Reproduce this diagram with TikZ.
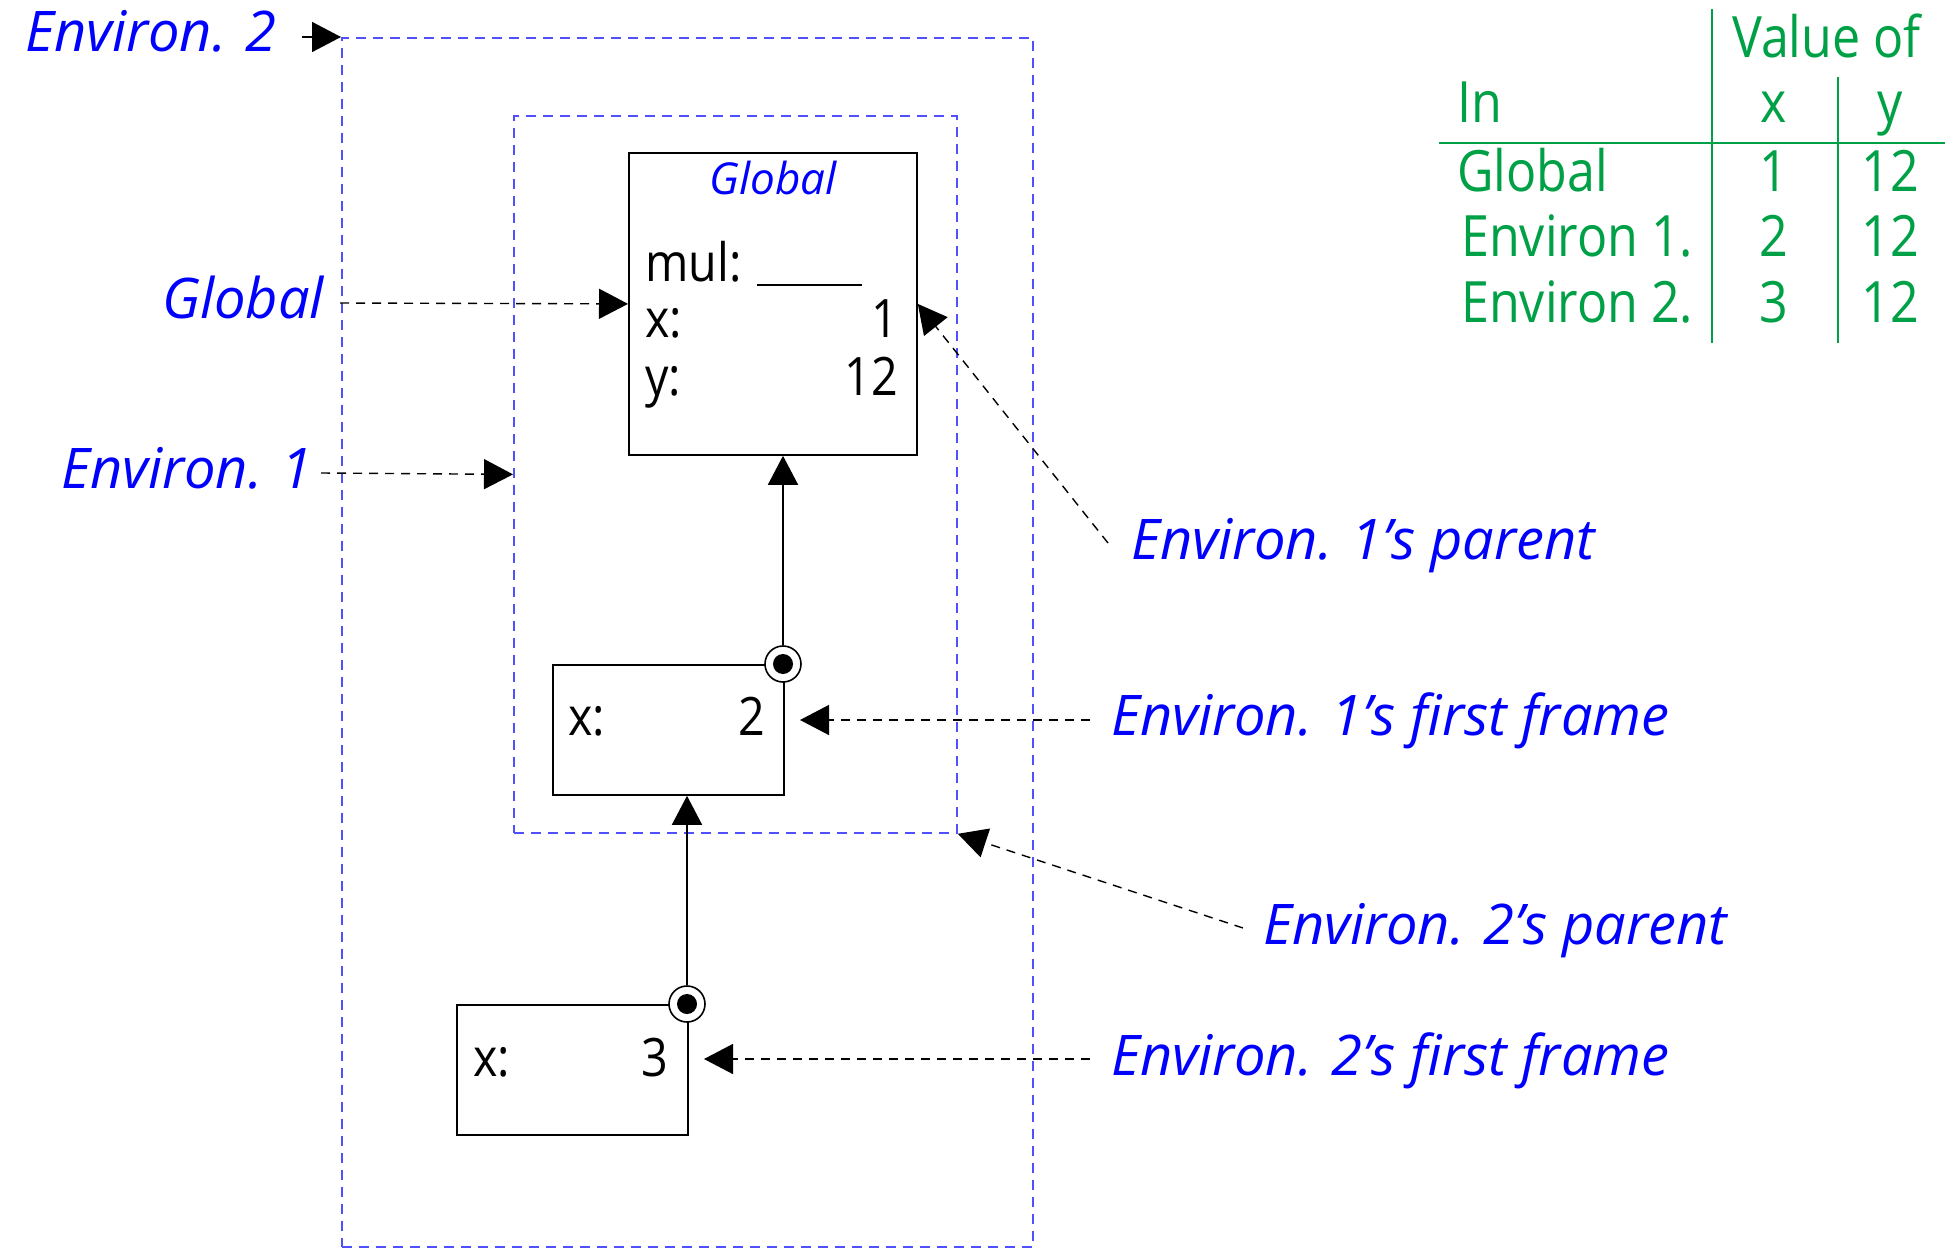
\documentclass[tikz,border=0pt]{standalone}
\usepackage{fontspec}
\setmainfont{Open Sans}
\newfontfamily\narrowfont[FakeStretch=0.88]{Open Sans}
\usetikzlibrary{arrows.meta}
\definecolor{lblblue}{RGB}{0,0,255}
\definecolor{boxblue}{RGB}{80,80,255}
\definecolor{tblgreen}{RGB}{0,160,70}
\tikzset{
  lbl/.style={text=lblblue, font=\fontsize{56}{60}\selectfont\itshape, inner sep=0pt, anchor=base west},
  val/.style={text=black, font=\narrowfont\fontsize{53}{56}\selectfont, inner sep=0pt},
  tbl/.style={text=tblgreen, font=\narrowfont\fontsize{57}{60}\selectfont, inner sep=0pt},
  envbox/.style={draw=boxblue, line width=1.8pt, dash pattern=on 10pt off 7pt, inner sep=0pt, anchor=north west},
  framebox/.style={draw=black, line width=1.8pt, inner sep=0pt, anchor=north west, fill=white},
  linkdash/.style={draw=black, line width=1.4pt, dash pattern=on 9pt off 7pt, -{Triangle[length=29pt,width=30pt]}},
  linksolid/.style={draw=black, line width=1.6pt, -{Triangle[length=29pt,width=30pt]}},
  ptrring/.style={circle, draw=black, line width=1.6pt, fill=white, minimum size=36pt, inner sep=0pt},
  ptrdot/.style={circle, fill=black, minimum size=20pt, inner sep=0pt},
  tblline/.style={draw=tblgreen, line width=2pt},
}
\begin{document}
\begin{tikzpicture}[x=1pt,y=-1pt]
\useasboundingbox (0,0) rectangle (1954,1249);

% environment outlines
\node[envbox, minimum width=691pt, minimum height=1209pt] (env2) at (341,37) {};
\node[envbox, minimum width=443pt, minimum height=717pt] (env1) at (513,115) {};

% frames
\node[framebox, minimum width=288pt, minimum height=302pt] (glob) at (628,152) {};
\node[framebox, minimum width=231pt, minimum height=130pt] (f1) at (552,664) {};
\node[framebox, minimum width=231pt, minimum height=130pt] (f2) at (456,1004) {};

% frame contents
\node[text=lblblue, font=\fontsize{44}{48}\selectfont\itshape, inner sep=0pt, anchor=base] (gtitle) at (773,195) {Global};
\node[val, anchor=base west] (gmul) at (645,282) {mul:};
\draw[black, line width=1.8pt] (757,285) -- (862,285);
\node[val, anchor=base west] (gx) at (645,337) {x:};
\node[val, anchor=base east] (gxv) at (898,337) {1};
\node[val, anchor=base west] (gy) at (645,395) {y:};
\node[val, anchor=base east] (gyv) at (898,395) {12};
\node[val, anchor=base west] (f1x) at (568,735) {x:};
\node[val, anchor=base east] (f1v) at (765,735) {2};
\node[val, anchor=base west] (f2x) at (473,1076) {x:};
\node[val, anchor=base east] (f2v) at (668,1076) {3};

% parent pointers
\node[ptrring] (p1) at (783,664) {};
\node[ptrdot] (p1d) at (p1.center) {};
\node[ptrring] (p2) at (687,1004) {};
\node[ptrdot] (p2d) at (p2.center) {};
\draw[linksolid] (p1.north) -- (glob.south -| p1);
\draw[linksolid] (p2.north) -- (f1.south -| p2);

% labels
\node[lbl] (lenv2) at (25,52) {Environ. 2};
\node[lbl] (lglob) at (162,319) {Global};
\node[lbl] (lenv1) at (61,488) {Environ. 1};
\node[lbl] (lpar1) at (1131,559) {Environ. 1's parent};
\node[lbl] (lfr1) at (1111,735) {Environ. 1's first frame};
\node[lbl] (lpar2) at (1263,944) {Environ. 2's parent};
\node[lbl] (lfr2) at (1111,1075) {Environ. 2's first frame};

% label connectors
\coordinate (tenv2) at (302,37);
\coordinate (tglob) at (340,303);
\coordinate (tenv1) at (321,473);
\coordinate (tpar1) at (1108,543);
\coordinate (tfr1) at (1090,720);
\coordinate (hfr1) at (800,720);
\coordinate (tpar2) at (1243,928);
\coordinate (tfr2) at (1090,1059);
\coordinate (hfr2) at (704,1059);
\draw[linksolid] (tenv2) -- (env2.north west);
\draw[linkdash] (tglob) -- (glob.west);
\draw[linkdash] (tenv1) -- (env1.west);
\draw[linkdash] (tpar1) -- (glob.east);
\draw[linkdash] (tfr1) -- (hfr1);
\draw[linkdash] (tpar2) -- (env1.south east);
\draw[linkdash] (tfr2) -- (hfr2);

% table of values
\draw[tblline] (1712,9) -- (1712,343);
\draw[tblline] (1838,77) -- (1838,343);
\draw[tblline] (1439,143) -- (1945,143);
\node[tbl, anchor=base west] (hval) at (1732,58) {Value of};
\node[tbl, anchor=base west] (hin) at (1457,123) {In};
\node[tbl, anchor=base] (hx) at (1774,123) {x};
\node[tbl, anchor=base] (hy) at (1890,123) {y};
\node[tbl, anchor=base west] (r1) at (1457,192) {Global};
\node[tbl, anchor=base] (r1x) at (1774,192) {1};
\node[tbl, anchor=base] (r1y) at (1890,192) {12};
\node[tbl, anchor=base west] (r2) at (1461,257) {Environ 1.};
\node[tbl, anchor=base] (r2x) at (1774,257) {2};
\node[tbl, anchor=base] (r2y) at (1890,257) {12};
\node[tbl, anchor=base west] (r3) at (1461,323) {Environ 2.};
\node[tbl, anchor=base] (r3x) at (1774,323) {3};
\node[tbl, anchor=base] (r3y) at (1890,323) {12};
\end{tikzpicture}
\end{document}
